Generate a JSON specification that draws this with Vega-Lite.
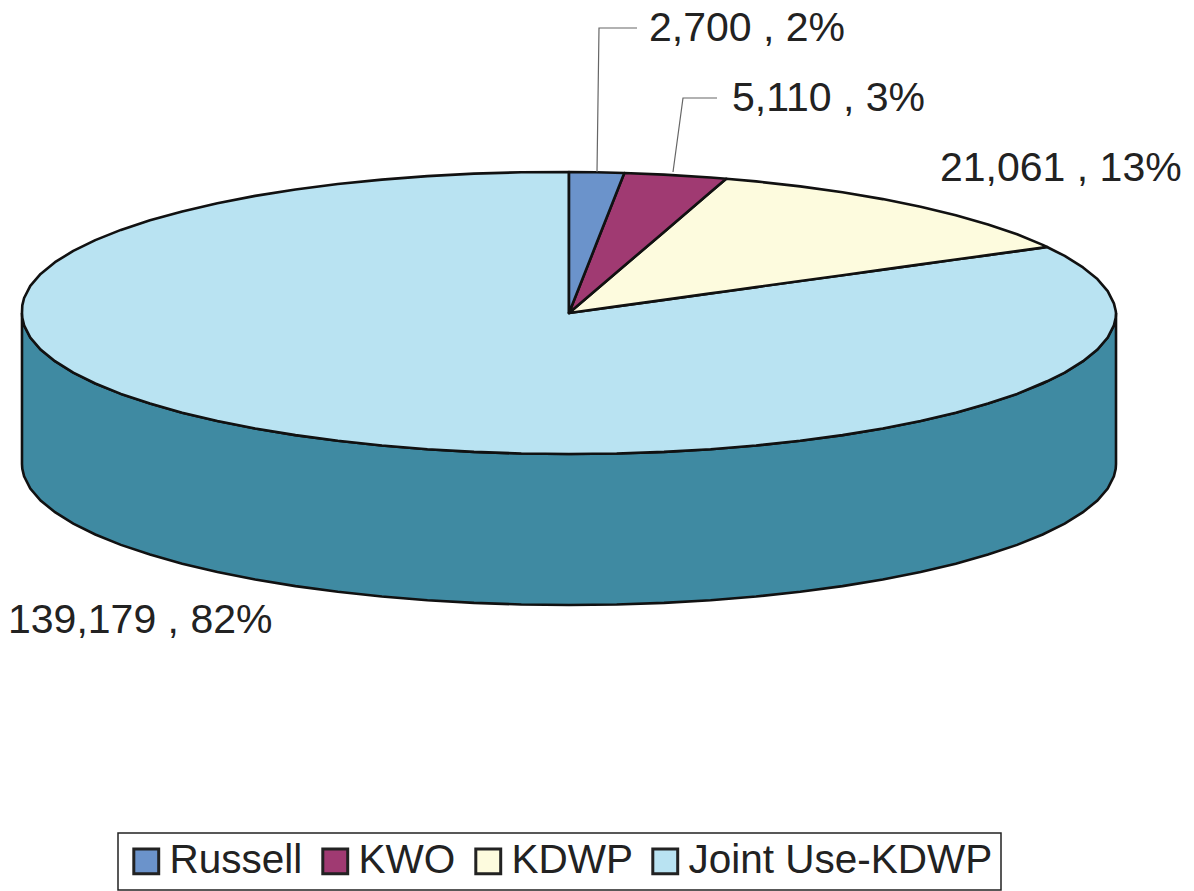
{
  "$schema": "https://vega.github.io/schema/vega-lite/v6.json",
  "width": 1194,
  "height": 891,
  "padding": 0,
  "autosize": {"type": "none"},
  "background": "#ffffff",
  "config": {"view": {"stroke": null}, "font": "Liberation Sans"},
  "datasets": {
    "wall": [
      {"x": 22, "y": 313, "y2": 464},
      {"x": 22.3, "y": 317.9, "y2": 468.9},
      {"x": 24.1, "y": 325.3, "y2": 476.3},
      {"x": 30.3, "y": 337.5, "y2": 488.5},
      {"x": 40.6, "y": 349.5, "y2": 500.5},
      {"x": 55, "y": 361.2, "y2": 512.2},
      {"x": 73.3, "y": 372.6, "y2": 523.6},
      {"x": 95.3, "y": 383.5, "y2": 534.5},
      {"x": 120.9, "y": 393.9, "y2": 544.9},
      {"x": 150, "y": 403.6, "y2": 554.6},
      {"x": 182.2, "y": 412.7, "y2": 563.7},
      {"x": 217.4, "y": 421, "y2": 572},
      {"x": 255.2, "y": 428.5, "y2": 579.5},
      {"x": 295.5, "y": 435.1, "y2": 586.1},
      {"x": 337.8, "y": 440.8, "y2": 591.8},
      {"x": 381.9, "y": 445.5, "y2": 596.5},
      {"x": 427.4, "y": 449.2, "y2": 600.2},
      {"x": 474, "y": 451.9, "y2": 602.9},
      {"x": 521.3, "y": 453.5, "y2": 604.5},
      {"x": 569, "y": 454, "y2": 605},
      {"x": 616.7, "y": 453.5, "y2": 604.5},
      {"x": 664, "y": 451.9, "y2": 602.9},
      {"x": 710.6, "y": 449.2, "y2": 600.2},
      {"x": 756.1, "y": 445.5, "y2": 596.5},
      {"x": 800.2, "y": 440.8, "y2": 591.8},
      {"x": 842.5, "y": 435.1, "y2": 586.1},
      {"x": 882.8, "y": 428.5, "y2": 579.5},
      {"x": 920.6, "y": 421, "y2": 572},
      {"x": 955.8, "y": 412.7, "y2": 563.7},
      {"x": 988, "y": 403.6, "y2": 554.6},
      {"x": 1017.1, "y": 393.9, "y2": 544.9},
      {"x": 1042.7, "y": 383.5, "y2": 534.5},
      {"x": 1064.7, "y": 372.6, "y2": 523.6},
      {"x": 1083, "y": 361.2, "y2": 512.2},
      {"x": 1097.4, "y": 349.5, "y2": 500.5},
      {"x": 1107.7, "y": 337.5, "y2": 488.5},
      {"x": 1113.9, "y": 325.3, "y2": 476.3},
      {"x": 1115.7, "y": 317.9, "y2": 468.9},
      {"x": 1116, "y": 313, "y2": 464}
    ],
    "slices": [
      {"source": "Joint Use-KDWP", "x": 22, "y": 313, "y2": 313},
      {"source": "Joint Use-KDWP", "x": 22.3, "y": 305.4, "y2": 317.9},
      {"source": "Joint Use-KDWP", "x": 24.1, "y": 298, "y2": 325.3},
      {"source": "Joint Use-KDWP", "x": 30.3, "y": 285.8, "y2": 337.5},
      {"source": "Joint Use-KDWP", "x": 40.6, "y": 273.9, "y2": 349.5},
      {"source": "Joint Use-KDWP", "x": 55, "y": 262.2, "y2": 361.2},
      {"source": "Joint Use-KDWP", "x": 73.3, "y": 250.9, "y2": 372.6},
      {"source": "Joint Use-KDWP", "x": 95.3, "y": 240.1, "y2": 383.5},
      {"source": "Joint Use-KDWP", "x": 120.9, "y": 229.9, "y2": 393.9},
      {"source": "Joint Use-KDWP", "x": 150, "y": 220.3, "y2": 403.6},
      {"source": "Joint Use-KDWP", "x": 182.2, "y": 211.4, "y2": 412.7},
      {"source": "Joint Use-KDWP", "x": 217.4, "y": 203.2, "y2": 421},
      {"source": "Joint Use-KDWP", "x": 255.2, "y": 195.9, "y2": 428.5},
      {"source": "Joint Use-KDWP", "x": 295.5, "y": 189.5, "y2": 435.1},
      {"source": "Joint Use-KDWP", "x": 337.8, "y": 184, "y2": 440.8},
      {"source": "Joint Use-KDWP", "x": 381.9, "y": 179.6, "y2": 445.5},
      {"source": "Joint Use-KDWP", "x": 427.4, "y": 176.1, "y2": 449.2},
      {"source": "Joint Use-KDWP", "x": 474, "y": 173.6, "y2": 451.9},
      {"source": "Joint Use-KDWP", "x": 521.3, "y": 172.3, "y2": 453.5},
      {"source": "Joint Use-KDWP", "x": 569, "y": 172, "y2": 454},
      {"source": "Joint Use-KDWP", "x": 569.01, "y": 313, "y2": 454},
      {"source": "Joint Use-KDWP", "x": 616.7, "y": 306.4, "y2": 453.5},
      {"source": "Joint Use-KDWP", "x": 664, "y": 299.9, "y2": 451.9},
      {"source": "Joint Use-KDWP", "x": 710.6, "y": 293.4, "y2": 449.2},
      {"source": "Joint Use-KDWP", "x": 756.1, "y": 287.1, "y2": 445.5},
      {"source": "Joint Use-KDWP", "x": 800.2, "y": 281, "y2": 440.8},
      {"source": "Joint Use-KDWP", "x": 842.5, "y": 275.2, "y2": 435.1},
      {"source": "Joint Use-KDWP", "x": 882.8, "y": 269.6, "y2": 428.5},
      {"source": "Joint Use-KDWP", "x": 920.6, "y": 264.4, "y2": 421},
      {"source": "Joint Use-KDWP", "x": 955.8, "y": 259.5, "y2": 412.7},
      {"source": "Joint Use-KDWP", "x": 988, "y": 255.1, "y2": 403.6},
      {"source": "Joint Use-KDWP", "x": 1017.1, "y": 251.1, "y2": 393.9},
      {"source": "Joint Use-KDWP", "x": 1047, "y": 247, "y2": 381.3},
      {"source": "Joint Use-KDWP", "x": 1064.7, "y": 255.9, "y2": 372.6},
      {"source": "Joint Use-KDWP", "x": 1083, "y": 267.4, "y2": 361.2},
      {"source": "Joint Use-KDWP", "x": 1097.4, "y": 279.1, "y2": 349.5},
      {"source": "Joint Use-KDWP", "x": 1107.7, "y": 291.2, "y2": 337.5},
      {"source": "Joint Use-KDWP", "x": 1113.9, "y": 303.4, "y2": 325.3},
      {"source": "Joint Use-KDWP", "x": 1115.7, "y": 310.8, "y2": 317.9},
      {"source": "Joint Use-KDWP", "x": 1116, "y": 313, "y2": 313},

      {"source": "KDWP", "x": 569, "y": 313, "y2": 313},
      {"source": "KDWP", "x": 616.7, "y": 272.3, "y2": 306.4},
      {"source": "KDWP", "x": 664, "y": 231.9, "y2": 299.9},
      {"source": "KDWP", "x": 710.6, "y": 192.1, "y2": 293.4},
      {"source": "KDWP", "x": 726.2, "y": 178.8, "y2": 291.3},
      {"source": "KDWP", "x": 756.1, "y": 181.4, "y2": 287.1},
      {"source": "KDWP", "x": 800.2, "y": 186.4, "y2": 281},
      {"source": "KDWP", "x": 842.5, "y": 192.3, "y2": 275.2},
      {"source": "KDWP", "x": 882.8, "y": 199.1, "y2": 269.6},
      {"source": "KDWP", "x": 920.6, "y": 206.8, "y2": 264.4},
      {"source": "KDWP", "x": 955.8, "y": 215.2, "y2": 259.5},
      {"source": "KDWP", "x": 988, "y": 224.5, "y2": 255.1},
      {"source": "KDWP", "x": 1017.1, "y": 234.3, "y2": 251.1},
      {"source": "KDWP", "x": 1042.7, "y": 244.9, "y2": 247.6},
      {"source": "KDWP", "x": 1047, "y": 247, "y2": 247},

      {"source": "KWO", "x": 569, "y": 313, "y2": 313},
      {"source": "KWO", "x": 624.3, "y": 173, "y2": 265.8},
      {"source": "KWO", "x": 664, "y": 174.6, "y2": 231.9},
      {"source": "KWO", "x": 710.6, "y": 177.5, "y2": 192.1},
      {"source": "KWO", "x": 726.2, "y": 178.8, "y2": 178.8},

      {"source": "Russell", "x": 569, "y": 172, "y2": 313},
      {"source": "Russell", "x": 596, "y": 172.2, "y2": 244.6},
      {"source": "Russell", "x": 624.3, "y": 173, "y2": 173}
    ],
    "leaders": [
      {"source": "Russell", "step": 1, "x": 597, "y": 172},
      {"source": "Russell", "step": 2, "x": 599, "y": 28},
      {"source": "Russell", "step": 3, "x": 637, "y": 28},
      {"source": "KWO", "step": 1, "x": 673, "y": 172},
      {"source": "KWO", "step": 2, "x": 683, "y": 98},
      {"source": "KWO", "step": 3, "x": 717, "y": 98}
    ],
    "labels": [
      {"source": "Russell", "acres": 2700, "label": "2,700 , 2%", "x": 649, "y": 29},
      {"source": "KWO", "acres": 5110, "label": "5,110 , 3%", "x": 732, "y": 99},
      {"source": "KDWP", "acres": 21061, "label": "21,061 , 13%", "x": 940, "y": 169},
      {"source": "Joint Use-KDWP", "acres": 139179, "label": "139,179 , 82%", "x": 8, "y": 621}
    ]
  },
  "layer": [
    {
      "data": {"name": "wall"},
      "mark": {"type": "area", "fill": "#3f8aa2", "stroke": "#111111", "strokeWidth": 2.6},
      "encoding": {
        "x": {"field": "x", "type": "quantitative", "scale": {"domain": [0, 1194], "nice": false, "zero": false}, "axis": null},
        "y": {"field": "y", "type": "quantitative", "scale": {"domain": [891, 0], "nice": false, "zero": false}, "axis": null},
        "y2": {"field": "y2"}
      }
    },
    {
      "data": {"name": "slices"},
      "mark": {"type": "area", "stroke": "#111111", "strokeWidth": 2.6, "strokeJoin": "round"},
      "encoding": {
        "x": {"field": "x", "type": "quantitative", "axis": null},
        "y": {"field": "y", "type": "quantitative", "axis": null},
        "y2": {"field": "y2"},
        "fill": {
          "field": "source",
          "type": "nominal",
          "scale": {
            "domain": ["Russell", "KWO", "KDWP", "Joint Use-KDWP"],
            "range": ["#6b93cb", "#a03a72", "#fdfbde", "#b9e3f2"]
          },
          "legend": {
            "title": null,
            "orient": "none",
            "legendX": 118,
            "legendY": 833,
            "direction": "horizontal",
            "columns": 4,
            "columnPadding": 12,
            "gridAlign": "each",
            "padding": 8,
            "strokeColor": "#222222",
            "fillColor": "#ffffff",
            "symbolType": "square",
            "symbolSize": 620,
            "symbolStrokeColor": "#222222",
            "symbolStrokeWidth": 3,
            "labelFont": "Liberation Sans",
            "labelFontSize": 40.5,
            "labelColor": "#222222",
            "labelLimit": 500,
            "labelOffset": 3,
            "encode": {"legend": {"update": {"strokeWidth": {"value": 1.5}}}}
          }
        }
      }
    },
    {
      "data": {"name": "leaders"},
      "mark": {"type": "line", "stroke": "#666666", "strokeWidth": 1.2},
      "encoding": {
        "x": {"field": "x", "type": "quantitative", "axis": null},
        "y": {"field": "y", "type": "quantitative", "axis": null},
        "detail": {"field": "source"},
        "order": {"field": "step", "type": "ordinal"}
      }
    },
    {
      "data": {"name": "labels"},
      "mark": {"type": "text", "align": "left", "baseline": "middle", "font": "Liberation Sans", "fontSize": 41, "fill": "#222222"},
      "encoding": {
        "x": {"field": "x", "type": "quantitative", "axis": null},
        "y": {"field": "y", "type": "quantitative", "axis": null},
        "text": {"field": "label"}
      }
    }
  ]
}
